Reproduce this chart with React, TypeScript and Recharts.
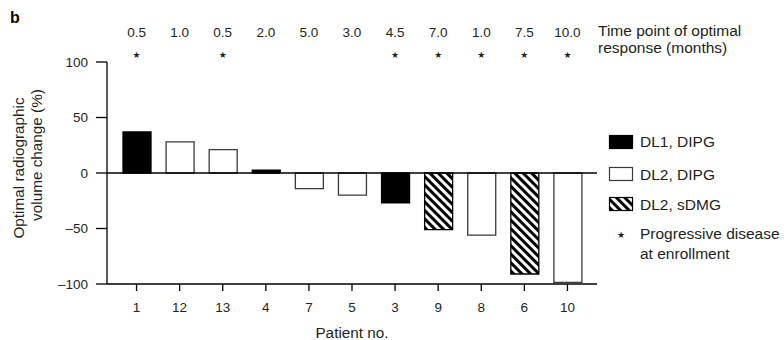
import React from 'react';
import { BarChart, Bar, XAxis, YAxis, Cell, ReferenceLine } from 'recharts';

const patients = ['1', '12', '13', '4', '7', '5', '3', '9', '8', '6', '10'];
const volumeChange = [37, 28, 21, 2.5, -14, -20, -27, -51, -56, -91, -98.5];
const cohorts = ['DL1, DIPG', 'DL2, DIPG', 'DL2, DIPG', 'DL1, DIPG', 'DL2, DIPG', 'DL2, DIPG', 'DL1, DIPG', 'DL2, sDMG', 'DL2, DIPG', 'DL2, sDMG', 'DL2, DIPG'];
const timePoints = ['0.5', '1.0', '0.5', '2.0', '5.0', '3.0', '4.5', '7.0', '1.0', '7.5', '10.0'];
const progressive = [true, false, true, false, false, false, true, true, true, true, true];
const yTicks = [-100, -50, 0, 50, 100];
const cohortNames = ['DL1, DIPG', 'DL2, DIPG', 'DL2, sDMG'];

const data = patients.map((p, i) => ({
  patient: p,
  change: volumeChange[i],
  cohort: cohorts[i],
  time: timePoints[i],
  pd: progressive[i],
}));

const FONT = '"Liberation Sans", Arial, Helvetica, sans-serif';
const STAR_FONT = '"DejaVu Sans", sans-serif';
const TEXT = '#231f20';

const fillFor = (c: string) => (c === 'DL1, DIPG' ? '#000' : c === 'DL2, sDMG' ? 'url(#hatch)' : '#fff');
const strokeFor = (c: string) => (c === 'DL2, DIPG' ? '#3a3a3a' : '#000');

const TopTick = (props: any) => {
  const { x, y, index } = props;
  const d = data[index];
  if (!d) return null;
  return (
    <g>
      <text x={x} y={y - 25.5} textAnchor="middle" fontSize={13.5} fontFamily={FONT} fill={TEXT}>
        {d.time}
      </text>
      {d.pd && (
        <text x={x} y={y - 4.5} textAnchor="middle" fontSize={9} fontFamily={STAR_FONT} fill={TEXT}>
          ★
        </text>
      )}
    </g>
  );
};

const YLabel = () => (
  <g fontFamily={FONT} fontSize={15.3} fill={TEXT}>
    <text transform="translate(24,168) rotate(-90)" textAnchor="middle">Optimal radiographic</text>
    <text transform="translate(42,155) rotate(-90)" textAnchor="middle">volume change (%)</text>
  </g>
);

const LegendBlock = () => (
  <g transform="translate(604,128)">
    {cohortNames.map((c, i) => {
      const boxY = [7, 39, 69][i];
      const textY = [19, 52, 81.5][i];
      return (
        <g key={c}>
          <rect x={5.5} y={boxY + 0.5} width={23} height={13} fill={fillFor(c)} stroke={strokeFor(c)} strokeWidth={1.2} />
          <text x={36} y={textY} fontSize={15.5} fontFamily={FONT} fill={TEXT}>{c}</text>
        </g>
      );
    })}
    <text x={17} y={110} textAnchor="middle" fontSize={9} fontFamily={STAR_FONT} fill={TEXT}>★</text>
    <text x={36} y={111} fontSize={15.5} fontFamily={FONT} fill={TEXT}>Progressive disease</text>
    <text x={36} y={130.5} fontSize={15.5} fontFamily={FONT} fill={TEXT}>at enrollment</text>
  </g>
);

export default function App() {
  return (
    <div style={{ position: 'absolute', left: 0, top: 0, width: 784, height: 340, background: '#fff' }}>
      <svg width={0} height={0} style={{ position: 'absolute' }}>
        <defs>
          <pattern id="hatch" patternUnits="userSpaceOnUse" width={6} height={6} patternTransform="rotate(-45)">
            <rect x={0} y={0} width={6} height={6} fill="#fff" />
            <rect x={0} y={0} width={3} height={6} fill="#000" />
          </pattern>
        </defs>
      </svg>
      <BarChart
        width={784}
        height={340}
        data={data}
        margin={{ top: 2, right: 187, bottom: 0, left: 47 }}
        style={{ position: 'absolute', left: 0, top: 0 }}
      >
        <XAxis
          xAxisId="top"
          orientation="top"
          dataKey="patient"
          height={60}
          axisLine={false}
          tickLine={false}
          tickSize={0}
          tickMargin={0}
          padding={{ left: 8, right: 8 }}
          tick={<TopTick />}
          interval={0}
        />
        <XAxis
          dataKey="patient"
          height={56}
          padding={{ left: 8, right: 8 }}
          axisLine={{ stroke: '#000', strokeWidth: 1.3 }}
          tickLine={{ stroke: '#000', strokeWidth: 1.3 }}
          tickSize={7}
          tickMargin={11}
          interval={0}
          tick={{ fontSize: 13.5, fontFamily: FONT, fill: TEXT }}
          label={{ value: 'Patient no.', position: 'insideBottom', offset: 2, fontSize: 15.3, fontFamily: FONT, fill: TEXT }}
        />
        <YAxis
          width={60}
          domain={[-100, 100]}
          ticks={yTicks}
          interval={0}
          axisLine={{ stroke: '#000', strokeWidth: 1.3 }}
          tickLine={{ stroke: '#000', strokeWidth: 1.3 }}
          tickSize={11}
          tickMargin={8}
          tickFormatter={(v: number) => String(v).replace('-', '\u2013')}
          tick={{ fontSize: 13.5, fontFamily: FONT, fill: TEXT }}
          label={{ content: <YLabel /> }}
        />
        <ReferenceLine y={0} stroke="#000" strokeWidth={1.3} />
        <Bar dataKey="change" barSize={28} isAnimationActive={false} strokeWidth={1.3}>
          {data.map((d, i) => (
            <Cell key={i} fill={fillFor(d.cohort)} stroke={strokeFor(d.cohort)} />
          ))}
        </Bar>
      </BarChart>
      <svg width={784} height={340} style={{ position: 'absolute', left: 0, top: 0, pointerEvents: 'none' }}>
        <text x={10} y={23} fontSize={16} fontWeight="bold" fontFamily={FONT} fill="#000">b</text>
        <text x={598} y={36} fontSize={15.5} fontFamily={FONT} fill={TEXT}>Time point of optimal</text>
        <text x={598} y={53} fontSize={15.5} fontFamily={FONT} fill={TEXT}>response (months)</text>
        <LegendBlock />
      </svg>
    </div>
  );
}
